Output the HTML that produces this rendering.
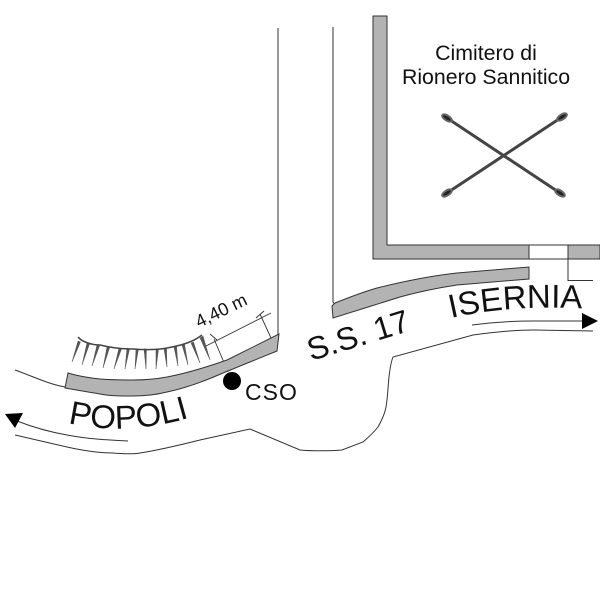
<!DOCTYPE html>
<html><head><meta charset="utf-8"><style>html,body{margin:0;padding:0;background:#fff}svg{display:block}text{font-family:"Liberation Sans",sans-serif;fill:#111}</style></head>
<body><svg width="600" height="600" viewBox="0 0 600 600" xmlns="http://www.w3.org/2000/svg">
<defs>
<path id="p1" d="M68 423 Q128 437 195 416"/>
<path id="p2" d="M451 318 Q512 304 590 309"/>
<path id="p3" d="M311 361 L416 329"/>
</defs>
<g fill="none" stroke="#333" stroke-width="1">
<path d="M278 28V336M333 27V302L335 305"/>
<path d="M15 370C32 376 48 384 65 387"/>
<path d="M15 435L67 447C85 451 100 453 113 453C125 454 135 454 140 453C160 450 180 445 200 440L250 429L300 450C310 451 330 451 342 450L363 442C370 436 374 432 378 427C383 418 385 413 386 407C388 395 388 385 389 377C390 368 391 362 393 357L473 335C495 332 515 330 533 330L593 331"/>
<path d="M472 325C495 322 515 321 533 321L583 321"/>
<path d="M17 421C35 428 50 432 67 435C88 439 108 440 128 441"/>
<path d="M529 245H600M529 259H600M568 259V280.500H593"/>
<path d="M206 346L271 313M214 339L228 372M260 314L277 351M210 334L217 340M256 318L264 311" stroke-width=".9"/>
</g>
<g fill="#b3b3b3" stroke="#333" stroke-width="1">
<path d="M373 16H387V245H529V259H373Z"/>
<rect x="568" y="245" width="32" height="14"/>
<path d="M332 306L335 303C350 297 363 292 377 288C405 281 430 276 457 273L529 267V279L457 285C437 288 418 292 400 297C378 304 355 311 333 318Z"/>
<path d="M68 373C78 376 90 378 100 379C112 380 122 380 133 380C145 380 156 379 167 377C188 373 207 367 227 360L279 334L277 351L223 373C205 381 186 388 167 392C155 395 144 396 133 396C120 396 110 396 100 394C88 392 76 390 65 388Z"/>
</g>
<g fill="#555" stroke="#555" stroke-width=".5" stroke-linejoin="round">
<path d="M78 341L80.500 342L72 362ZM87 343L89.500 344L82 365ZM97 345L99.500 346L92 366ZM107 347L109.500 348L103 368ZM119 348L121.500 349L114 369ZM127 348L129.500 349L125 369ZM136 349L138.500 349L135 369ZM144 349L146.500 349L146 369ZM156 349L158.500 349L156 369ZM164 349L166.500 348L167 367ZM174 347L176.500 346L178 366ZM182 345L184.500 344L188 365ZM191 343L193.500 342L200 363ZM200 338L203 336L210 360Z"/>
</g>
<path d="M78 337C82 342 92 345 100 345C112 348 122 349 133 349C145 350 156 350 167 348C178 346 192 343 202 335" fill="none" stroke="#444" stroke-width="1.500"/>
<path d="M582 313L598 321L582 329ZM5 414L23 413L15 428Z" fill="#000"/>
<circle cx="232" cy="381" r="9" fill="#000"/>
<g stroke="#444" stroke-width="3" fill="none">
<path d="M447 118L560 193M562 117L447 193"/>
</g>
<g stroke="#666" stroke-width="2" fill="#222">
<ellipse cx="447" cy="118" rx="5.500" ry="2.500" transform="rotate(33 447 118)"/>
<ellipse cx="560" cy="193" rx="5.500" ry="2.500" transform="rotate(33 560 193)"/>
<ellipse cx="562" cy="117" rx="5.500" ry="2.500" transform="rotate(-33 562 117)"/>
<ellipse cx="447" cy="193" rx="5.500" ry="2.500" transform="rotate(-33 447 193)"/>
</g>
<text font-size="21.300" x="486" y="60" text-anchor="middle">Cimitero di</text>
<text font-size="21.300" x="486" y="84" text-anchor="middle">Rionero Sannitico</text>
<text font-size="33"><textPath href="#p1">POPOLI</textPath></text>
<text font-size="33"><textPath href="#p2">ISERNIA</textPath></text>
<text font-size="32"><textPath href="#p3">S.S. 17</textPath></text>
<text font-size="18" transform="translate(199 328) rotate(-26)">4,40 m</text>
<text font-size="23" x="245" y="400" letter-spacing="1">CSO</text>
</svg></body></html>
